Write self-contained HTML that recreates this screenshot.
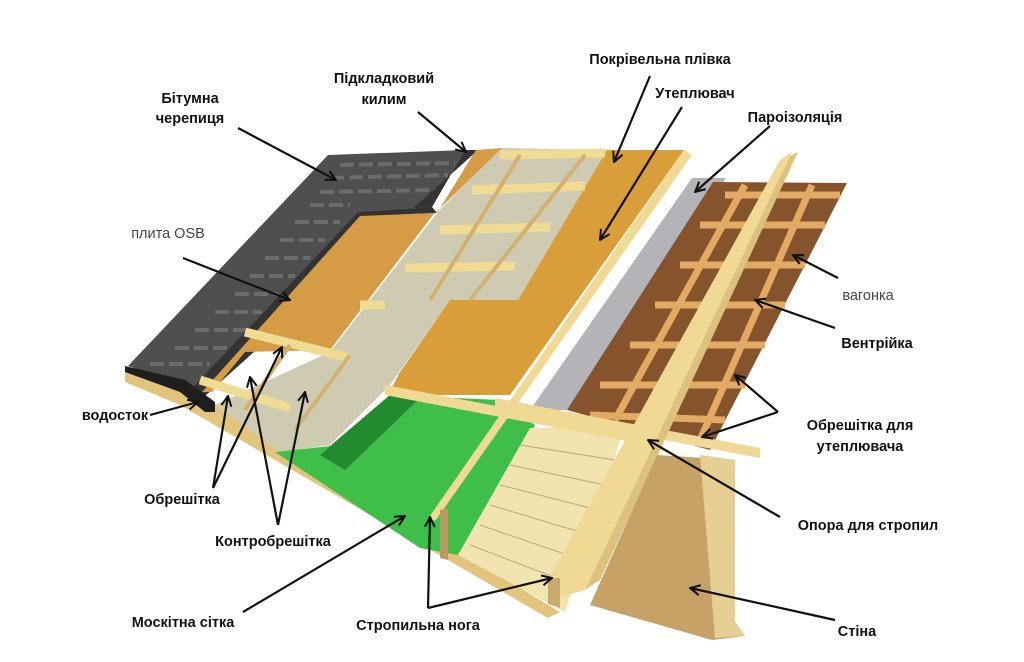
<!DOCTYPE html>
<html><head><meta charset="utf-8"><style>
html,body{margin:0;padding:0;background:#fff;}
svg{display:block}
text{font-family:"Liberation Sans",sans-serif;font-size:14.5px;font-weight:bold;fill:#111;}
</style></head><body>
<svg width="1024" height="662" viewBox="0 0 1024 662" xmlns="http://www.w3.org/2000/svg">
<defs>
<marker id="a" viewBox="0 0 12 12" refX="11" refY="6" markerWidth="12" markerHeight="12" markerUnits="userSpaceOnUse" orient="auto">
<path d="M1,1 L11,6 L1,11" fill="none" stroke="#111" stroke-width="2"/></marker>
</defs>
<polygon points="125,370 200,395 560,612 548,618 180,405 125,382" fill="#e3c47d"/>
<polygon points="500,148 607,150 518,300 450,300 390,385 330,445 280,452 215,405 330,352 437,213" fill="#cfcbb3"/>
<polygon points="328,155 465,150 432,207 358,212 192,388 128,366" fill="#4f4f4f"/>
<g stroke="#6c6c6c" stroke-width="4" stroke-dasharray="14,5">
<line x1="340" y1="165" x2="455" y2="163"/><line x1="330" y1="178" x2="448" y2="175"/><line x1="320" y1="192" x2="440" y2="190"/>
<line x1="310" y1="205" x2="350" y2="205"/><line x1="295" y1="222" x2="340" y2="222"/><line x1="280" y1="240" x2="325" y2="240"/>
<line x1="265" y1="258" x2="310" y2="258"/><line x1="250" y1="276" x2="295" y2="276"/><line x1="235" y1="294" x2="278" y2="294"/>
<line x1="215" y1="312" x2="262" y2="312"/><line x1="195" y1="330" x2="245" y2="330"/><line x1="175" y1="348" x2="228" y2="348"/><line x1="150" y1="364" x2="210" y2="364"/></g>
<polygon points="465,150 478,150 205,396 192,388 358,212 432,207" fill="#333"/>
<polygon points="432,207 358,212 192,388 200,392 360,216 437,213" fill="#333"/>
<polygon points="476,150 502,148 433,215 330,350 245,352 212,392 202,392 360,216 437,213" fill="#d59b45"/>
<polygon points="125,366 185,380 215,402 215,412 205,412 180,392 125,372" fill="#1e1e1e"/>
<polygon points="607,150 684,150 510,395 388,395 400,372 450,300 518,300" fill="#d99e3a"/>
<polygon points="390,395 500,400 535,425 458,555 420,548 275,452 330,446" fill="#3fbf4a"/>
<polygon points="390,395 420,398 345,470 320,455" fill="#238a2f"/>
<polygon points="530,428 625,425 565,612 458,555" fill="#f1e4b0"/>
<g stroke="#b9a77a" stroke-width="1"><line x1="520" y1="445" x2="615" y2="460"/><line x1="510" y1="465" x2="605" y2="485"/><line x1="500" y1="485" x2="598" y2="510"/><line x1="490" y1="505" x2="590" y2="535"/><line x1="480" y1="525" x2="582" y2="560"/><line x1="470" y1="545" x2="575" y2="585"/></g>
<polygon points="692,178 726,178 570,410 530,410" fill="#b4b4b8"/>
<polygon points="713,182 847,183 710,450 567,410" fill="#85532c"/>
<g stroke="#e2aa62" stroke-width="7">
<line x1="725" y1="195" x2="840" y2="195"/><line x1="700" y1="225" x2="825" y2="225"/><line x1="680" y1="265" x2="805" y2="265"/><line x1="655" y1="305" x2="785" y2="305"/><line x1="630" y1="345" x2="765" y2="345"/><line x1="600" y1="385" x2="745" y2="385"/><line x1="590" y1="415" x2="725" y2="420"/>
<line x1="745" y1="185" x2="615" y2="420"/><line x1="812" y1="185" x2="700" y2="440"/></g>
<polygon points="385,385 650,435 648,445 385,395" fill="#efd994"/>
<polygon points="495,398 760,448 760,458 495,408" fill="#efd994"/>
<polygon points="684,150 692,155 436,520 425,523" fill="#efd994"/>
<polygon points="440,510 448,508 448,560 440,558" fill="#b79a62"/>
<polygon points="790,156 798,152 600,580 585,590" fill="#dcc27e"/>
<polygon points="780,160 792,152 585,590 550,600 548,580" fill="#efd994"/>
<polygon points="548,578 560,578 560,608 548,604" fill="#c9ab6c"/>
<polygon points="657,455 735,460 735,622 745,636 712,640 590,605" fill="#c6a266"/>
<polygon points="700,455 735,460 735,622 745,636 715,638" fill="#e6cf93"/>
<g stroke="#efdb92" stroke-width="9">
<line x1="500" y1="155" x2="605" y2="153"/><line x1="472" y1="190" x2="585" y2="186"/><line x1="440" y1="230" x2="550" y2="227"/><line x1="405" y1="268" x2="515" y2="266"/>
<line x1="360" y1="305" x2="385" y2="305"/><line x1="245" y1="332" x2="350" y2="358"/><line x1="200" y1="380" x2="290" y2="408"/></g>
<g stroke="#d2b070" stroke-width="4">
<line x1="520" y1="155" x2="430" y2="300"/><line x1="585" y1="155" x2="470" y2="300"/><line x1="290" y1="345" x2="245" y2="410"/><line x1="350" y1="355" x2="295" y2="430"/></g>
<g stroke="#111" stroke-width="2.2" fill="none" marker-end="url(#a)">
<line x1="238" y1="128" x2="336" y2="180"/>
<line x1="418" y1="112" x2="466" y2="152"/>
<line x1="650" y1="76" x2="614" y2="162"/>
<line x1="682" y1="107" x2="600" y2="240"/>
<line x1="770" y1="126" x2="695" y2="192"/>
<line x1="183" y1="258" x2="290" y2="300"/>
<line x1="838" y1="278" x2="793" y2="255"/>
<line x1="835" y1="328" x2="755" y2="300"/>
<line x1="778" y1="412" x2="735" y2="375"/>
<line x1="778" y1="412" x2="702" y2="437"/>
<line x1="780" y1="517" x2="648" y2="440"/>
<line x1="835" y1="620" x2="690" y2="588"/>
<line x1="428" y1="608" x2="430" y2="517"/>
<line x1="428" y1="608" x2="552" y2="578"/>
<line x1="243" y1="612" x2="405" y2="516"/>
<line x1="213" y1="488" x2="228" y2="396"/>
<line x1="213" y1="488" x2="282" y2="347"/>
<line x1="278" y1="525" x2="250" y2="377"/>
<line x1="278" y1="525" x2="305" y2="392"/>
<line x1="150" y1="415" x2="198" y2="402"/>
</g>
<text x="190" y="103" text-anchor="middle">Бітумна</text>
<text x="190" y="123" text-anchor="middle">черепиця</text>
<text x="384" y="83" text-anchor="middle">Підкладковий</text>
<text x="384" y="104" text-anchor="middle">килим</text>
<text x="660" y="64" text-anchor="middle">Покрівельна плівка</text>
<text x="695" y="98" text-anchor="middle">Утеплювач</text>
<text x="795" y="122" text-anchor="middle">Пароізоляція</text>
<text x="168" y="238" text-anchor="middle" style="font-weight:normal;fill:#444">плита OSB</text>
<text x="868" y="300" text-anchor="middle" style="font-weight:normal;fill:#444">вагонка</text>
<text x="877" y="348" text-anchor="middle">Вентрійка</text>
<text x="860" y="430" text-anchor="middle">Обрешітка для</text>
<text x="860" y="451" text-anchor="middle">утеплювача</text>
<text x="868" y="530" text-anchor="middle">Опора для стропил</text>
<text x="857" y="636" text-anchor="middle">Стіна</text>
<text x="418" y="630" text-anchor="middle">Стропильна нога</text>
<text x="183" y="627" text-anchor="middle">Москітна сітка</text>
<text x="182" y="504" text-anchor="middle">Обрешітка</text>
<text x="273" y="546" text-anchor="middle">Контробрешітка</text>
<text x="115" y="420" text-anchor="middle">водосток</text>
</svg>
</body></html>
